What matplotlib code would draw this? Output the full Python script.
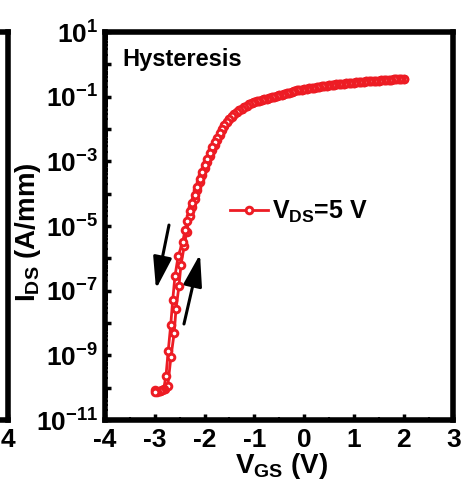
import numpy as np
import matplotlib
matplotlib.use("Agg")
from matplotlib import pyplot as plt
from matplotlib.ticker import FixedLocator, FuncFormatter, LogLocator, MultipleLocator, NullFormatter

plt.rcParams['font.family'] = 'Liberation Sans'
plt.rcParams['font.weight'] = 'bold'
plt.rcParams['axes.labelweight'] = 'bold'
plt.rcParams['mathtext.fontset'] = 'custom'
plt.rcParams['mathtext.rm'] = 'Liberation Sans:bold'
plt.rcParams['mathtext.it'] = 'Liberation Sans:bold'
plt.rcParams['mathtext.bf'] = 'Liberation Sans:bold'
plt.rcParams['mathtext.default'] = 'rm'
plt.rcParams['axes.unicode_minus'] = False

# forward sweep (up), V_GS in volts and log10(I_DS in A/mm)
vgs_fwd = [-3.00, -2.95, -2.90, -2.85, -2.80, -2.74, -2.675, -2.61, -2.575, -2.515,
           -2.475, -2.41, -2.36,
           -2.30, -2.25, -2.20, -2.15, -2.10, -2.05, -2.00, -1.95, -1.90, -1.85,
           -1.80, -1.75, -1.70, -1.65, -1.60, -1.55, -1.50, -1.45, -1.40, -1.35,
           -1.30, -1.25, -1.20, -1.15, -1.10, -1.05, -1.00, -0.95, -0.90, -0.85,
           -0.80, -0.75, -0.70, -0.65, -0.60, -0.55, -0.50, -0.45, -0.40, -0.35,
           -0.30, -0.25, -0.20, -0.15, -0.10, -0.05, 0.00, 0.05, 0.10, 0.15,
           0.20, 0.25, 0.30, 0.35, 0.40, 0.45, 0.50, 0.55, 0.60, 0.65,
           0.70, 0.75, 0.80, 0.85, 0.90, 0.95, 1.00, 1.05, 1.10, 1.15,
           1.20, 1.25, 1.30, 1.35, 1.40, 1.45, 1.50, 1.55, 1.60, 1.65,
           1.70, 1.75, 1.80, 1.85, 1.90, 1.95, 2.00]
logi_fwd = [-10.08, -10.10, -10.10, -10.08, -10.05, -9.95, -9.04, -8.30, -7.58, -6.86,
            -6.21, -5.62, -5.18,
            -4.68, -4.41, -4.17, -3.90, -3.65, -3.42, -3.20, -3.01, -2.82, -2.65,
            -2.48, -2.33, -2.17, -2.04, -1.91, -1.79, -1.70, -1.62, -1.55, -1.48,
            -1.42, -1.37, -1.32, -1.28, -1.24, -1.20, -1.17, -1.14, -1.12, -1.10,
            -1.08, -1.06, -1.04, -1.02, -1.00, -0.98, -0.96, -0.94, -0.92, -0.90,
            -0.88, -0.85, -0.83, -0.80, -0.79, -0.78, -0.76, -0.75, -0.74, -0.73,
            -0.72, -0.71, -0.69, -0.68, -0.67, -0.66, -0.65, -0.64, -0.63, -0.62,
            -0.61, -0.60, -0.60, -0.59, -0.58, -0.57, -0.57, -0.56, -0.55, -0.55,
            -0.54, -0.53, -0.53, -0.52, -0.51, -0.51, -0.50, -0.49, -0.49, -0.48,
            -0.48, -0.47, -0.46, -0.46, -0.45, -0.45, -0.44]

# reverse sweep (down), listed from low to high V_GS
vgs_rev = [-3.00, -2.95, -2.90, -2.86, -2.82, -2.775, -2.73, -2.68, -2.64, -2.595,
           -2.53, -2.44, -2.39, -2.35,
           -2.30, -2.25, -2.20, -2.15, -2.10, -2.05, -2.00, -1.95, -1.90, -1.85,
           -1.80, -1.75, -1.70, -1.65, -1.60, -1.55, -1.50, -1.45, -1.40, -1.35,
           -1.30, -1.25, -1.20, -1.15, -1.10, -1.05, -1.00, -0.95, -0.90, -0.85,
           -0.80, -0.75, -0.70, -0.65, -0.60, -0.55, -0.50, -0.45, -0.40, -0.35,
           -0.30, -0.25, -0.20, -0.15, -0.10, -0.05, 0.00, 0.05, 0.10, 0.15,
           0.20, 0.25, 0.30, 0.35, 0.40, 0.45, 0.50, 0.55, 0.60, 0.65,
           0.70, 0.75, 0.80, 0.85, 0.90, 0.95, 1.00, 1.05, 1.10, 1.15,
           1.20, 1.25, 1.30, 1.35, 1.40, 1.45, 1.50, 1.55, 1.60, 1.65,
           1.70, 1.75, 1.80, 1.85, 1.90, 1.95, 2.00]
logi_rev = [-10.12, -10.12, -10.10, -10.08, -10.03, -9.63, -8.86, -8.06, -7.29, -6.55,
            -5.93, -5.49, -5.12, -4.85,
            -4.55, -4.28, -4.03, -3.78, -3.54, -3.32, -3.11, -2.92, -2.74, -2.57,
            -2.41, -2.27, -2.12, -2.00, -1.88, -1.77, -1.68, -1.61, -1.54, -1.48,
            -1.42, -1.37, -1.32, -1.28, -1.24, -1.20, -1.17, -1.14, -1.12, -1.10,
            -1.08, -1.06, -1.04, -1.02, -1.00, -0.98, -0.96, -0.94, -0.92, -0.90,
            -0.88, -0.85, -0.83, -0.80, -0.79, -0.78, -0.76, -0.75, -0.74, -0.73,
            -0.72, -0.71, -0.69, -0.68, -0.67, -0.66, -0.65, -0.64, -0.63, -0.62,
            -0.61, -0.60, -0.60, -0.59, -0.58, -0.57, -0.57, -0.56, -0.55, -0.55,
            -0.54, -0.53, -0.53, -0.52, -0.51, -0.51, -0.50, -0.49, -0.49, -0.48,
            -0.48, -0.47, -0.46, -0.46, -0.45, -0.45, -0.44]

series_label = r'$\mathdefault{V_{DS}}$=5 V'
panel_text = 'Hysteresis'

RED = '#ed1c24'
SPINE_W = 4.0

fig = plt.figure(figsize=(4.61, 4.88), dpi=100)

# neighbouring panel, mostly off the left edge; only its last x tick shows
ax0 = fig.add_axes([0.0174 - 0.75, 0.1393, 0.75, 0.7951])
ax0.set_xlim(-3, 4)
ax0.set_yscale('log')
ax0.set_ylim(1e-11, 1e1)
ax0.set_yticks([])
ax0.yaxis.set_minor_locator(FixedLocator([]))
ax0.set_xticks([4])
ax0.tick_params(axis='x', direction='in', length=4, width=2.5, labelsize=19, pad=6)
for s in ax0.spines.values():
    s.set_linewidth(SPINE_W)

ax = fig.add_axes([0.2278, 0.1393, 0.7559, 0.7951])

v_all = vgs_fwd + vgs_rev[::-1]
i_all = 10.0 ** np.array(logi_fwd + logi_rev[::-1])
ax.plot(v_all, i_all, color=RED, lw=2.0, marker='o', ms=4.8, mew=2.1,
        mfc='white', mec=RED, label=series_label)

ax.set_yscale('log')
ax.set_xlim(-4, 3)
ax.set_ylim(1e-11, 1e1)

ax.xaxis.set_major_locator(MultipleLocator(1))
ax.xaxis.set_minor_locator(MultipleLocator(0.5))
ax.yaxis.set_major_locator(FixedLocator(10.0 ** np.arange(-11, 2)))
ax.yaxis.set_major_formatter(FuncFormatter(
    lambda v, pos: r'$\mathdefault{10^{%d}}$' % round(np.log10(v)) if round(np.log10(v)) % 2 else ''))
ax.yaxis.set_minor_locator(LogLocator(base=10, subs=np.arange(2, 10), numticks=50))
ax.yaxis.set_minor_formatter(NullFormatter())

ax.tick_params(which='major', direction='in', length=4, width=2.5, labelsize=19)
ax.tick_params(which='minor', direction='in', length=2.2, width=1.5)
ax.tick_params(axis='x', pad=6)
ax.tick_params(axis='y', pad=5)
for s in ax.spines.values():
    s.set_linewidth(SPINE_W)

ax.set_xlabel(r'$\mathdefault{V_{GS}}$ (V)', fontsize=20)
ax.xaxis.set_label_coords(0.505, -0.08)
ax.set_ylabel(r'$\mathdefault{I_{DS}}$ (A/mm)', fontsize=20, va='center')
ax.yaxis.set_label_coords(-0.221, 0.485)

ax.text(0.049, 0.912, panel_text, transform=ax.transAxes, fontsize=17,
        ha='left', va='baseline')

ax.legend(loc='center left', bbox_to_anchor=(0.36, 0.536), frameon=False,
          fontsize=18, handlelength=1.5, handletextpad=0.15, borderpad=0,
          borderaxespad=0)

# sweep direction arrows
for (x0, y0), (x1, y1) in [((-2.715, -4.97), (-2.976, -6.95)),
                           ((-2.414, -8.03), (-2.092, -5.87))]:
    ax.annotate('', xy=(x1, 10 ** y1), xytext=(x0, 10 ** y0),
                arrowprops=dict(arrowstyle='-|>,head_length=1.3,head_width=0.38',
                                lw=2.2, color='black', mutation_scale=15,
                                shrinkA=0, shrinkB=0))

fig.savefig('out.png', dpi=100)
